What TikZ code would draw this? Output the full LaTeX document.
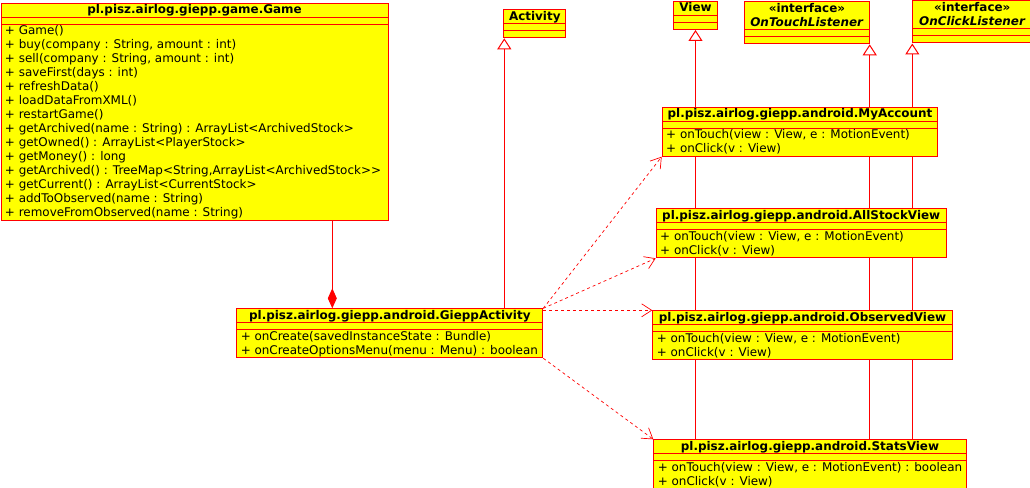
\documentclass[tikz,border=0pt]{standalone}
\usepackage{fontspec}
\setmainfont{DejaVu Sans}
\usetikzlibrary{shapes.multipart,arrows.meta,backgrounds}
\definecolor{umlred}{RGB}{255,0,0}
\definecolor{umlyellow}{RGB}{255,255,0}
\newcommand\umlfont{\fontsize{11.95}{14}\selectfont}
\newcommand\us{\rule[-3.5pt]{0pt}{14pt}}
\newcommand\nopart{\rule{0pt}{7pt}}
\newcommand\ifacetitle[1]{\vbox{\halign{\hfil##\hfil\cr\us\textbf{«interface»}\cr\us\textbf{\textit{#1}}\cr}}}
\tikzset{
  umlclass/.style={rectangle split, rectangle split parts=3, draw=umlred, fill=umlyellow,
    line width=1pt, inner xsep=4pt, inner ysep=-0.5pt,
    rectangle split part align={center,left,left}, align=left, font=\umlfont, anchor=north west},
  inherit/.style={draw=umlred, line width=1pt, -{Triangle[open,length=11pt,width=14pt,fill=white]}},
  compose/.style={draw=umlred, line width=1pt, -{Diamond[length=20pt,width=9pt,fill=umlred]}},
  depend/.style={draw=umlred, line width=0.7pt, dash pattern=on 3pt off 3pt,
    -{Straight Barb[length=10pt,width=13pt]}}
}
\begin{document}
\begin{tikzpicture}[x=1pt,y=-1pt]
\useasboundingbox (0,0) rectangle (1030,487);
\node[umlclass,minimum width=387pt] (Game) at (0.5,2.7) {\us\textbf{pl.pisz.airlog.giepp.game.Game}
  \nodepart{two}\nopart
  \nodepart{three}\us+ Game()\\
  \us+ buy(company : String, amount : int)\\
  \us+ sell(company : String, amount : int)\\
  \us+ saveFirst(days : int)\\
  \us+ refreshData()\\
  \us+ loadDataFromXML()\\
  \us+ restartGame()\\
  \us+ getArchived(name : String) : ArrayList<ArchivedStock>\\
  \us+ getOwned() : ArrayList<PlayerStock>\\
  \us+ getMoney() : long\\
  \us+ getArchived() : TreeMap<String,ArrayList<ArchivedStock>{}>\\
  \us+ getCurrent() : ArrayList<CurrentStock>\\
  \us+ addToObserved(name : String)\\
  \us+ removeFromObserved(name : String)};
\node[umlclass,minimum width=62pt] (Activity) at (503.3,9.3) {\us\textbf{Activity}
  \nodepart{two}\nopart \nodepart{three}\nopart};
\node[umlclass,minimum width=43.4pt] (View) at (673.3,1) {\us\textbf{View}
  \nodepart{two}\nopart \nodepart{three}\nopart};
\node[umlclass,minimum width=124.4pt] (OnTouch) at (744.3,1.3) {\ifacetitle{OnTouchListener}
  \nodepart{two}\nopart \nodepart{three}\nopart};
\node[umlclass,minimum width=119pt] (OnClick) at (912.3,0.5) {\ifacetitle{OnClickListener}
  \nodepart{two}\nopart \nodepart{three}\nopart};
\node[umlclass,minimum width=306pt] (GieppActivity) at (236.3,308.3) {\us\textbf{pl.pisz.airlog.giepp.android.GieppActivity}
  \nodepart{two}\nopart
  \nodepart{three}\us+ onCreate(savedInstanceState : Bundle)\\
  \us+ onCreateOptionsMenu(menu : Menu) : boolean};
\node[umlclass,minimum width=275.6pt] (MyAccount) at (661.7,106.7) {\us\textbf{pl.pisz.airlog.giepp.android.MyAccount}
  \nodepart{two}\nopart
  \nodepart{three}\us+ onTouch(view : View, e : MotionEvent)\\
  \us+ onClick(v : View)};
\node[umlclass,minimum width=290pt] (AllStock) at (655.7,208.3) {\us\textbf{pl.pisz.airlog.giepp.android.AllStockView}
  \nodepart{two}\nopart
  \nodepart{three}\us+ onTouch(view : View, e : MotionEvent)\\
  \us+ onClick(v : View)};
\node[umlclass,minimum width=299.4pt] (Observed) at (652.3,310.3) {\us\textbf{pl.pisz.airlog.giepp.android.ObservedView}
  \nodepart{two}\nopart
  \nodepart{three}\us+ onTouch(view : View, e : MotionEvent)\\
  \us+ onClick(v : View)};
\node[umlclass,minimum width=312pt] (Stats) at (653.3,439.3) {\us\textbf{pl.pisz.airlog.giepp.android.StatsView}
  \nodepart{two}\nopart
  \nodepart{three}\us+ onTouch(view : View, e : MotionEvent) : boolean\\
  \us+ onClick(v : View)};
\begin{scope}[on background layer]
  % generalisation and composition
  \draw[compose] (332.3,0 |- Game.south) -- (332.3,0 |- GieppActivity.north);
  \draw[inherit] (504.3,0 |- GieppActivity.north) -- (504.3,0 |- Activity.south);
  \draw[inherit] (Stats.north -| View.south) -- (View.south);
  \draw[inherit] (Stats.north -| OnTouch.south east) -- (OnTouch.south east);
  \draw[inherit] (Stats.north -| OnClick.south west) -- (OnClick.south west);
  % dependencies
  \draw[depend] (GieppActivity.north east) -- (MyAccount.south west);
  \draw[depend] (GieppActivity.north east) -- (AllStock.south west);
  \draw[depend] (GieppActivity.north east |- Observed.north west) -- (Observed.north west);
  \draw[depend] (GieppActivity.south east) -- (Stats.north west);
\end{scope}
\end{tikzpicture}
\end{document}
